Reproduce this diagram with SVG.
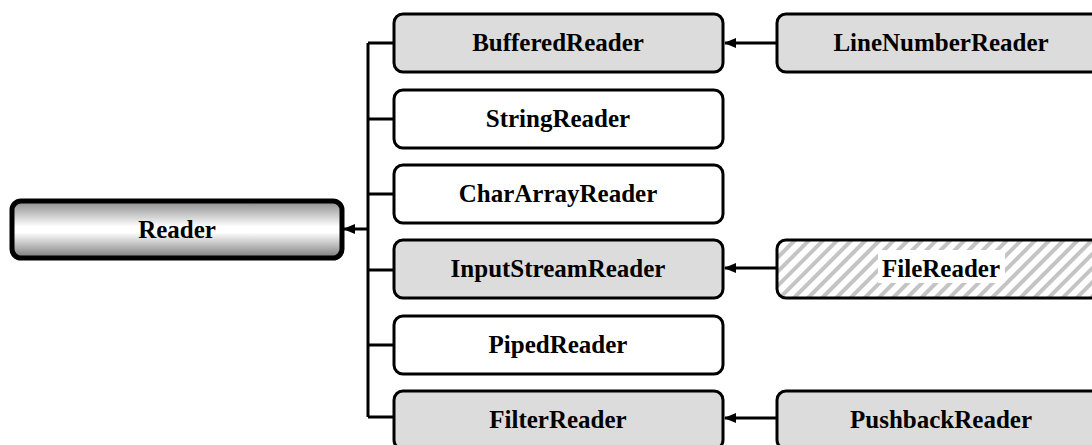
<svg xmlns="http://www.w3.org/2000/svg" width="1092" height="445" viewBox="0 0 1092 445">
<style>
.box{stroke:#000;stroke-width:3}
.plain{fill:#fff}
.gray{fill:#dcdcdc}
.lbl{font-family:"Liberation Serif","Times New Roman",serif;font-weight:bold;font-size:25px;text-anchor:middle;fill:#000}
.con{fill:none;stroke:#000;stroke-width:3}
</style>
<defs>
<linearGradient id="rg" x1="0" y1="0" x2="0" y2="1">
<stop offset="0" stop-color="#8a8a8a"/>
<stop offset="0.45" stop-color="#ffffff"/>
<stop offset="0.55" stop-color="#ffffff"/>
<stop offset="1" stop-color="#7a7a7a"/>
</linearGradient>
<pattern id="hatch" patternUnits="userSpaceOnUse" width="10" height="10" patternTransform="rotate(45)">
<rect width="10" height="10" fill="#fff"/>
<rect x="0" y="0" width="4" height="10" fill="#c4c4c4"/>
</pattern>
<marker id="ah" markerWidth="12" markerHeight="12" refX="11" refY="6" orient="auto" markerUnits="userSpaceOnUse">
<path d="M0,1 L12,6 L0,11 Z" fill="#000"/>
</marker>
</defs>
<g id="connectors">
<path class="con" d="M368,43 V417 M368,43 H393 M368,119 H393 M368,194 H393 M368,270 H393 M368,345 H393 M368,417 H393"/>
<line class="con" x1="368" y1="229" x2="344" y2="229" marker-end="url(#ah)"/>
<line class="con" x1="777" y1="43" x2="725" y2="43" marker-end="url(#ah)"/>
<line class="con" x1="777" y1="268" x2="725" y2="268" marker-end="url(#ah)"/>
<line class="con" x1="777" y1="418" x2="725" y2="418" marker-end="url(#ah)"/>
</g>
<g id="Reader">
<rect x="12" y="201" width="330" height="57" rx="9" fill="url(#rg)" stroke="#000" stroke-width="5"/>
<text class="lbl" x="177" y="238">Reader</text>
</g>
<g id="BufferedReader">
<rect class="box gray" x="394" y="14" width="329" height="58" rx="9"/>
<text class="lbl" x="558" y="51">BufferedReader</text>
</g>
<g id="StringReader">
<rect class="box plain" x="394" y="90" width="329" height="58" rx="9"/>
<text class="lbl" x="558" y="127">StringReader</text>
</g>
<g id="CharArrayReader">
<rect class="box plain" x="394" y="165" width="329" height="58" rx="9"/>
<text class="lbl" x="558" y="202">CharArrayReader</text>
</g>
<g id="InputStreamReader">
<rect class="box gray" x="394" y="240" width="329" height="58" rx="9"/>
<text class="lbl" x="558" y="277">InputStreamReader</text>
</g>
<g id="PipedReader">
<rect class="box plain" x="394" y="316" width="329" height="58" rx="9"/>
<text class="lbl" x="558" y="353">PipedReader</text>
</g>
<g id="FilterReader">
<rect class="box gray" x="394" y="391" width="329" height="58" rx="9"/>
<text class="lbl" x="558" y="428">FilterReader</text>
</g>
<g id="LineNumberReader">
<rect class="box gray" x="777" y="14" width="330" height="58" rx="9"/>
<text class="lbl" x="941" y="51">LineNumberReader</text>
</g>
<g id="FileReader">
<rect class="box" x="777" y="240" width="330" height="58" rx="9" fill="url(#hatch)"/>
<rect x="878" y="250" width="127" height="33" fill="#fff"/>
<text class="lbl" x="941" y="277">FileReader</text>
</g>
<g id="PushbackReader">
<rect class="box gray" x="777" y="391" width="330" height="58" rx="9"/>
<text class="lbl" x="941" y="428">PushbackReader</text>
</g>
</svg>
